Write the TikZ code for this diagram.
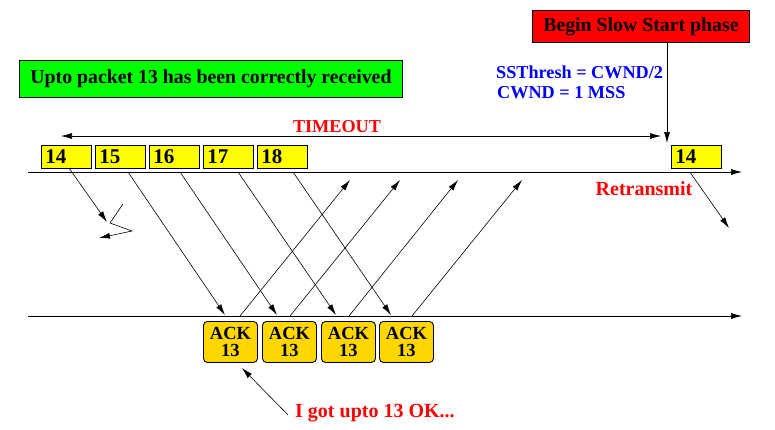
\documentclass[tikz,border=0pt]{standalone}
\usepackage{fontspec}
\setmainfont{Liberation Serif}
\usetikzlibrary{arrows.meta}
\definecolor{pktyellow}{RGB}{255,255,0}
\definecolor{ackgold}{RGB}{255,215,0}
\definecolor{tred}{RGB}{255,0,0}
\definecolor{tblue}{RGB}{0,0,255}
\definecolor{tgreen}{RGB}{0,255,0}
\tikzset{
  tip/.style={-{Latex[length=11pt,width=6pt]}},
  pkt/.style={draw=black, line width=0.9pt, fill=pktyellow, minimum width=50pt, minimum height=23pt, inner xsep=4pt, inner ysep=0pt, text width=42pt, align=left, font=\fontsize{21}{21}\selectfont\bfseries, anchor=north west},
  ack/.style={draw=black, line width=0.9pt, fill=ackgold, rounded corners=4pt, minimum width=54pt, minimum height=41pt, inner sep=0pt, align=center, font=\fontsize{18.5}{17}\selectfont\bfseries, anchor=north west},
  lbl/.style={font=\fontsize{20}{20}\selectfont\bfseries, inner sep=0pt},
  thin/.style={line width=0.6pt},
}
\begin{document}
\begin{tikzpicture}[x=1pt,y=-1pt]
\useasboundingbox (0,0) rectangle (775,429);
% time lines
\coordinate (s0) at (28,172); \coordinate (s1) at (742,172);
\coordinate (r0) at (28,316); \coordinate (r1) at (742,316);
\draw[thin,tip] (s0) -- (s1);
\draw[thin,tip] (r0) -- (r1);
% packets
\node[pkt] (p14) at (41,145) {14};
\node[pkt] (p15) at (95,145) {15};
\node[pkt] (p16) at (149,145) {16};
\node[pkt] (p17) at (203,145) {17};
\node[pkt] (p18) at (257,145) {18};
\node[pkt] (p14b) at (671,145) {14};
% green banner
\node[draw=black, line width=0.9pt, fill=tgreen, minimum width=383pt, minimum height=37pt, inner sep=0pt, anchor=north west, font=\fontsize{19.8}{20}\selectfont\bfseries] (green) at (19,60) {Upto packet 13 has been correctly received};
% red banner
\node[draw=black, line width=0.9pt, fill=tred, minimum width=217pt, minimum height=32pt, inner sep=0pt, anchor=north west, font=\fontsize{19.8}{20}\selectfont\bfseries] (slow) at (532,10) {Begin Slow Start phase};
% blue text
\node[lbl, text=tblue, anchor=west, font=\fontsize{18.2}{18}\selectfont\bfseries] (ss) at (496,72) {SSThresh = CWND/2};
\node[lbl, text=tblue, anchor=west, font=\fontsize{18.2}{18}\selectfont\bfseries] (cw) at (497,93) {CWND = 1 MSS};
\coordinate (slowend) at (667,143);
\draw[thin,tip] (slow.south -| slowend) -- (slowend);
% timeout
\node[lbl, text=tred, font=\fontsize{18.2}{18}\selectfont\bfseries] (to) at (337,127) {TIMEOUT};
\coordinate (t0) at (61,136); \coordinate (t1) at (661,136);
\draw[thin,{Latex[length=11pt,width=6pt]}-{Latex[length=11pt,width=6pt]}] (t0) -- (t1);
% retransmit
\node[lbl, text=tred] (rt) at (644,189) {Retransmit};
\coordinate (rte) at (729,228);
\draw[thin,tip] (p14b.south) ++(-6,4) coordinate (rts) (rts) -- (rte);
% lost packet 14
\coordinate (l0) at (69,168); \coordinate (l1) at (107,222);
\draw[thin,tip] (l0) -- (l1);
\coordinate (z0) at (123,204); \coordinate (z1) at (110,223); \coordinate (z2) at (132,231); \coordinate (z3) at (99,238);
\draw[thin,tip] (z0) -- (z1) -- (z2) -- (z3);
% data packets
\coordinate (d15a) at (128,172); \coordinate (d15b) at (225,315);
\coordinate (d16a) at (180,172); \coordinate (d16b) at (277,315);
\coordinate (d17a) at (238,172); \coordinate (d17b) at (336,315);
\coordinate (d18a) at (293,172); \coordinate (d18b) at (391,315);
\draw[thin,tip] (d15a) -- (d15b);
\draw[thin,tip] (d16a) -- (d16b);
\draw[thin,tip] (d17a) -- (d17b);
\draw[thin,tip] (d18a) -- (d18b);
% acks
\coordinate (a1a) at (240,316); \coordinate (a1b) at (350,180);
\coordinate (a2a) at (290,316); \coordinate (a2b) at (400,180);
\coordinate (a3a) at (349,316); \coordinate (a3b) at (458,180);
\coordinate (a4a) at (412,316); \coordinate (a4b) at (522,180);
\draw[thin,tip] (a1a) -- (a1b);
\draw[thin,tip] (a2a) -- (a2b);
\draw[thin,tip] (a3a) -- (a3b);
\draw[thin,tip] (a4a) -- (a4b);
\node[ack] (k1) at (203,321) {ACK\\13};
\node[ack] (k2) at (262,321) {ACK\\13};
\node[ack] (k3) at (321,321) {ACK\\13};
\node[ack] (k4) at (379,321) {ACK\\13};
% comment
\node[lbl, text=tred, anchor=west] (ok) at (295,413) {I got upto 13 OK...};
\coordinate (oke) at (242,368);
\draw[thin,tip] (ok.west) ++(-7,2) coordinate (oks) (oks) -- (oke);
\end{tikzpicture}
\end{document}
